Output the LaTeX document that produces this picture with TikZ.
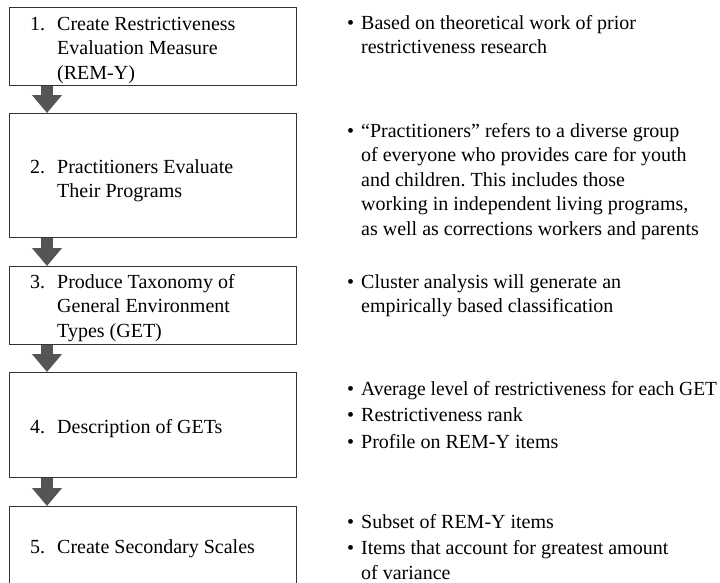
\documentclass[tikz,border=0pt]{standalone}
\usepackage{fontspec}
\setmainfont{Liberation Serif}
\usetikzlibrary{arrows.meta}
\definecolor{boxline}{HTML}{333333}
\definecolor{arrowgray}{HTML}{555555}
\frenchspacing
\begin{document}
\begin{tikzpicture}[x=1pt,y=-1pt,
  stagebox/.style={draw=boxline,line width=1.2pt,anchor=north west,inner sep=0pt},
  stagetext/.style={anchor=base west,inner sep=0pt,text=black,font=\fontsize{20}{24.5}\selectfont},
  notetext/.style={anchor=base west,inner sep=0pt,text=black,font=\fontsize{20}{24.5}\selectfont},
  flow/.style={draw=arrowgray,line width=12pt,-{Triangle[width=29pt,length=18pt,fill=arrowgray]}}]
\clip (0,0) rectangle (720,582);
\fill[white] (0,0) rectangle (720,582);
% stage boxes
\node[stagebox,minimum width=287pt,minimum height=78pt]  (b1) at (9,7)   {};
\node[stagebox,minimum width=287pt,minimum height=124pt] (b2) at (9,113) {};
\node[stagebox,minimum width=287pt,minimum height=78pt]  (b3) at (9,266) {};
\node[stagebox,minimum width=287pt,minimum height=105pt] (b4) at (9,372) {};
\node[stagebox,minimum width=287pt,minimum height=90pt]  (b5) at (9,506) {};
% stage labels
\newcommand{\stagerow}[2]{\makebox[27pt][l]{#1}#2}
\node[stagetext] (t1) at (30,30) {\begin{tabular}[t]{@{}l@{}}
  \stagerow{1.}{Create Restrictiveness}\\
  \stagerow{}{Evaluation Measure}\\
  \stagerow{}{(REM-Y)}\end{tabular}};
\node[stagetext] (t2) at (30,173) {\begin{tabular}[t]{@{}l@{}}
  \stagerow{2.}{Practitioners Evaluate}\\
  \stagerow{}{Their Programs}\end{tabular}};
\node[stagetext] (t3) at (30,288) {\begin{tabular}[t]{@{}l@{}}
  \stagerow{3.}{Produce Taxonomy of}\\
  \stagerow{}{General Environment}\\
  \stagerow{}{Types (GET)}\end{tabular}};
\node[stagetext] (t4) at (30,433) {\stagerow{4.}{Description of GETs}};
\node[stagetext] (t5) at (30,553) {\stagerow{5.}{Create Secondary Scales}};
% flow arrows between stages
\draw[flow] ([xshift=38pt]b1.south west) -- ([xshift=38pt]b2.north west);
\draw[flow] ([xshift=38pt]b2.south west) -- ([xshift=38pt]b3.north west);
\draw[flow] ([xshift=38pt]b3.south west) -- ([xshift=38pt]b4.north west);
\draw[flow] ([xshift=38pt]b4.south west) -- ([xshift=38pt]b5.north west);
% notes
\newcommand{\noterow}[2]{\makebox[14pt][l]{#1}#2}
\node[notetext] (n1) at (347,29) {\begin{tabular}[t]{@{}l@{}}
  \noterow{•}{Based on theoretical work of prior}\\
  \noterow{}{restrictiveness research}\end{tabular}};
\node[notetext] (n2) at (347,137) {\begin{tabular}[t]{@{}l@{}}
  \noterow{•}{“Practitioners” refers to a diverse group}\\
  \noterow{}{of everyone who provides care for youth}\\
  \noterow{}{and children. This includes those}\\
  \noterow{}{working in independent living programs,}\\
  \noterow{}{as well as corrections workers and parents}\end{tabular}};
\node[notetext] (n3) at (347,288) {\begin{tabular}[t]{@{}l@{}}
  \noterow{•}{Cluster analysis will generate an}\\
  \noterow{}{empirically based classification}\end{tabular}};
\node[notetext] (n4) at (347,395) {\begin{tabular}[t]{@{}l@{}}
  \noterow{•}{\scalebox{0.975}[1]{Average level of restrictiveness for each GET}}\\[2pt]
  \noterow{•}{Restrictiveness rank}\\[2pt]
  \noterow{•}{Profile on REM-Y items}\end{tabular}};
\node[notetext] (n5) at (347,528) {\begin{tabular}[t]{@{}l@{}}
  \noterow{•}{Subset of REM-Y items}\\[2pt]
  \noterow{•}{Items that account for greatest amount}\\
  \noterow{}{of variance}\end{tabular}};
\end{tikzpicture}
\end{document}
